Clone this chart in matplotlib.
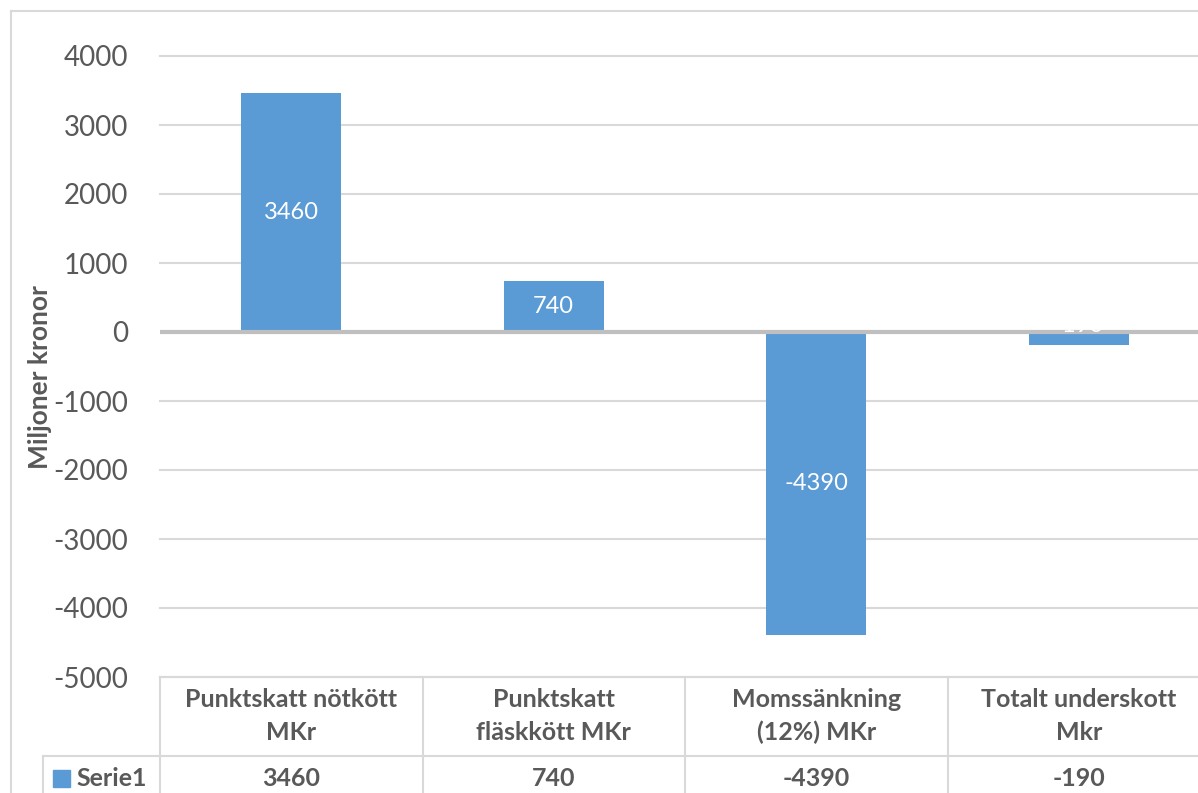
import matplotlib
matplotlib.use("Agg")
import matplotlib.pyplot as plt
from matplotlib.lines import Line2D
from matplotlib.patches import Rectangle
from matplotlib.transforms import blended_transform_factory

plt.rcParams['font.family'] = ['Lato', 'DejaVu Sans']

# Data
categories = ["Punktskatt nötkött\nMKr", "Punktskatt\nfläskkött MKr",
              "Momssänkning\n(12%) MKr", "Totalt underskott\nMkr"]
values = [3460, 740, -4390, -190]
series_name = "Serie1"
yticks = [-5000, -4000, -3000, -2000, -1000, 0, 1000, 2000, 3000, 4000]

BAR = "#5B9BD5"
GRID = "#D9D9D9"
ZERO = "#BFBFBF"
TEXT = "#595959"

W, H = 1198, 793
fig = plt.figure(figsize=(W / 100, H / 100), dpi=100)


def fx(px):
    return px / W


def fy(py):
    return 1 - py / H


# Plot area (extends slightly past the right edge)
ax = fig.add_axes([fx(160), fy(677), fx(1210 - 160), fy(56) - fy(677)])
xs = list(range(len(values)))
ax.bar(xs, values, width=0.38, color=BAR, zorder=2)
ax.set_xlim(-0.5, len(values) - 0.5)
ax.set_ylim(yticks[0], yticks[-1])
ax.set_yticks(yticks)
ax.set_yticklabels([str(t) for t in yticks])
ax.tick_params(axis='y', length=0, pad=23, labelsize=20, labelcolor=TEXT)
ax.tick_params(axis='x', length=0, labelbottom=False)
for s in ax.spines.values():
    s.set_visible(False)
for t in yticks:
    if t == 0:
        continue
    ax.axhline(t, color=GRID, lw=1.5, zorder=1, clip_on=False)
ax.axhline(0, color=ZERO, lw=3, zorder=3)

# Value labels inside the bars (small bars get the label at the zero line)
for x, v in zip(xs, values):
    if abs(v) > 500:
        ax.text(x, v / 2, str(v), ha='center', va='center', color='white',
                fontsize=17, zorder=4)
    else:
        ax.text(x, 0, str(v), ha='center', va='baseline', color='white',
                fontsize=17, zorder=4)

# Axis title
fig.text(fx(40), fy(377), "Miljoner kronor", rotation=90, ha='center',
         va='center', fontsize=19, fontweight='bold', color=TEXT)

# Chart border
fig.add_artist(Line2D([fx(11), fx(11)], [fy(11), 0], color=GRID, lw=1.5))
fig.add_artist(Line2D([fx(11), 1], [fy(11), fy(11)], color=GRID, lw=1.5))

# Data table below the plot
tr = blended_transform_factory(ax.transData, fig.transFigure)
y_top, y_mid = fy(677), fy(756)
x_lo, x_hi = -0.5, len(values) - 0.5
ax.add_artist(Line2D([x_lo, x_hi], [y_top, y_top], transform=tr, color=GRID,
                     lw=1.5, clip_on=False))
fig.add_artist(Line2D([fx(43), 1], [y_mid, y_mid], color=GRID, lw=1.5))
fig.add_artist(Line2D([fx(43), fx(43)], [y_mid, 0], color=GRID, lw=1.5))
for i in range(len(values) + 1):
    ax.add_artist(Line2D([i - 0.5, i - 0.5], [y_top, 0], transform=tr,
                         color=GRID, lw=1.5, clip_on=False))
for x, cat, v in zip(xs, categories, values):
    ax.text(x, fy(716), cat, transform=tr, ha='center', va='center',
            fontsize=18, fontweight='bold', color=TEXT, linespacing=1.5,
            clip_on=False)
    ax.text(x, fy(778), str(v), transform=tr, ha='center', va='center',
            fontsize=18, fontweight='bold', color=TEXT, clip_on=False)

# Legend key in the table row
fig.add_artist(Rectangle((fx(53), fy(787)), fx(17), fy(770) - fy(787),
                         color=BAR, transform=fig.transFigure))
fig.text(fx(76), fy(778), series_name, ha='left', va='center', fontsize=18,
         fontweight='bold', color=TEXT)

fig.savefig("out.png", dpi=100)
